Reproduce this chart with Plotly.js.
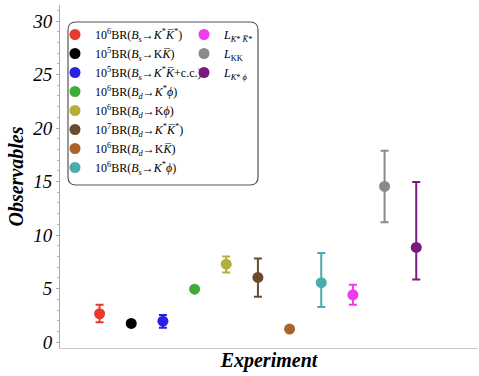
<!DOCTYPE html>
<html><head><meta charset="utf-8">
<script src="https://cdn.plot.ly/plotly-3.0.1.min.js"></script>
<style>body{margin:0;background:#fff}#c{width:479px;height:376px}</style>
</head><body><div id="c"></div>
<script>
const names = [
 "10<sup>6</sup>BR(<i>B<sub>s</sub></i>→<i>K</i><sup>*</sup><i>K̅</i><sup>*</sup>)",
 "10<sup>5</sup>BR(<i>B<sub>s</sub></i>→K<i>K̅</i>)",
 "10<sup>5</sup>BR(<i>B<sub>s</sub></i>→<i>K</i><sup>*</sup><i>K̅</i>+c.c.)",
 "10<sup>6</sup>BR(<i>B<sub>d</sub></i>→<i>K</i><sup>*</sup><i>ϕ</i>)",
 "10<sup>6</sup>BR(<i>B<sub>d</sub></i>→K<i>ϕ</i>)",
 "10<sup>7</sup>BR(<i>B<sub>d</sub></i>→<i>K</i><sup>*</sup><i>K̅</i><sup>*</sup>)",
 "10<sup>6</sup>BR(<i>B<sub>d</sub></i>→K<i>K̅</i>)",
 "10<sup>6</sup>BR(<i>B<sub>s</sub></i>→<i>K</i><sup>*</sup><i>ϕ</i>)",
 "<i>L</i><sub><i>K</i>* <i>K̅</i>*</sub>",
 "<i>L</i><sub>KK</sub>",
 "<i>L</i><sub><i>K</i>* <i>ϕ</i></sub>"
];
const xpos   = [1,2,3,4,5,6,7,8,9,10,11];
const values = [2.65,1.75,1.96,4.95,7.28,6.04,1.22,5.55,4.42,14.55,8.85];
const errPlus  = [0.85,0.12,0.58,0.15,0.72,1.78,0.08,2.77,0.94,3.33,6.1];
const errMinus = [0.80,0.12,0.62,0.15,0.77,1.80,0.08,2.28,0.93,3.36,3.0];
const colors = ["#e8392c","#000000","#2a1fe6","#3cae35","#b5ae38","#6a4b2b","#a9632b","#4eabab","#ef3cef","#8a8a8a","#7a1a7e"];

const traces = names.map((n,i)=>({
  type:'scatter', mode:'markers', x:[xpos[i]], y:[values[i]], name:n,
  legend: i<8 ? 'legend' : 'legend2',
  marker:{color:colors[i], size:11},
  error_y:{type:'data', symmetric:false, array:[errPlus[i]], arrayminus:[errMinus[i]], color:colors[i], thickness:2, width:4},
  showlegend:true
}));

const fx=(px)=>(px-60)/418, fy=(py)=>(348-py)/343;
const x0=fx(68),x1=fx(258),y0=fy(185),y1=fy(22),rx=8/418,ry=8/343;
const path=`M ${x0+rx} ${y1} L ${x1-rx} ${y1} Q ${x1} ${y1} ${x1} ${y1-ry} L ${x1} ${y0+ry} Q ${x1} ${y0} ${x1-rx} ${y0} L ${x0+rx} ${y0} Q ${x0} ${y0} ${x0} ${y0+ry} L ${x0} ${y1-ry} Q ${x0} ${y1} ${x0+rx} ${y1} Z`;

const serif = "Liberation Serif, Times New Roman, serif";
const layout = {
  width:479, height:376,
  margin:{l:60, r:1, t:5, b:28},
  paper_bgcolor:'#fff', plot_bgcolor:'#fff',
  font:{family:serif, color:'#000'},
  showlegend:true,
  xaxis:{range:[-0.25,12.95], showgrid:false, zeroline:false, showticklabels:false, ticks:'',
         showline:true, linecolor:'#cccccc', linewidth:1,
         title:{text:'<b><i>Experiment</i></b>', font:{size:20, family:serif}, standoff:4}},
  yaxis:{range:[-0.55,31.5], showgrid:false, zeroline:false, showline:true, linecolor:'#aaaaaa', linewidth:1,
         tickvals:[0,5,10,15,20,25,30], ticks:'outside', ticklen:3, tickcolor:'#aaaaaa',
         minor:{dtick:1, ticks:'outside', ticklen:2, tickcolor:'#bbbbbb'},
         tickfont:{size:19, family:serif, style:'italic'},
         title:{text:'<b><i>Observables</i></b>', font:{size:20, family:serif}, standoff:3}},
  legend:{x:fx(55), y:fy(20), xanchor:'left', yanchor:'top', bgcolor:'rgba(0,0,0,0)', borderwidth:0,
          font:{size:12, family:serif}, tracegroupgap:0, itemwidth:30},
  legend2:{x:fx(184), y:fy(20), xanchor:'left', yanchor:'top', bgcolor:'rgba(0,0,0,0)', borderwidth:0,
          font:{size:12, family:serif}, tracegroupgap:0, itemwidth:30},
  shapes:[{type:'path', xref:'paper', yref:'paper', path:path, line:{color:'#555', width:1.2}, fillcolor:'rgba(255,255,255,0)', layer:'below'}]
};
Plotly.newPlot('c', traces, layout, {displayModeBar:false, staticPlot:true});
</script></body></html>
